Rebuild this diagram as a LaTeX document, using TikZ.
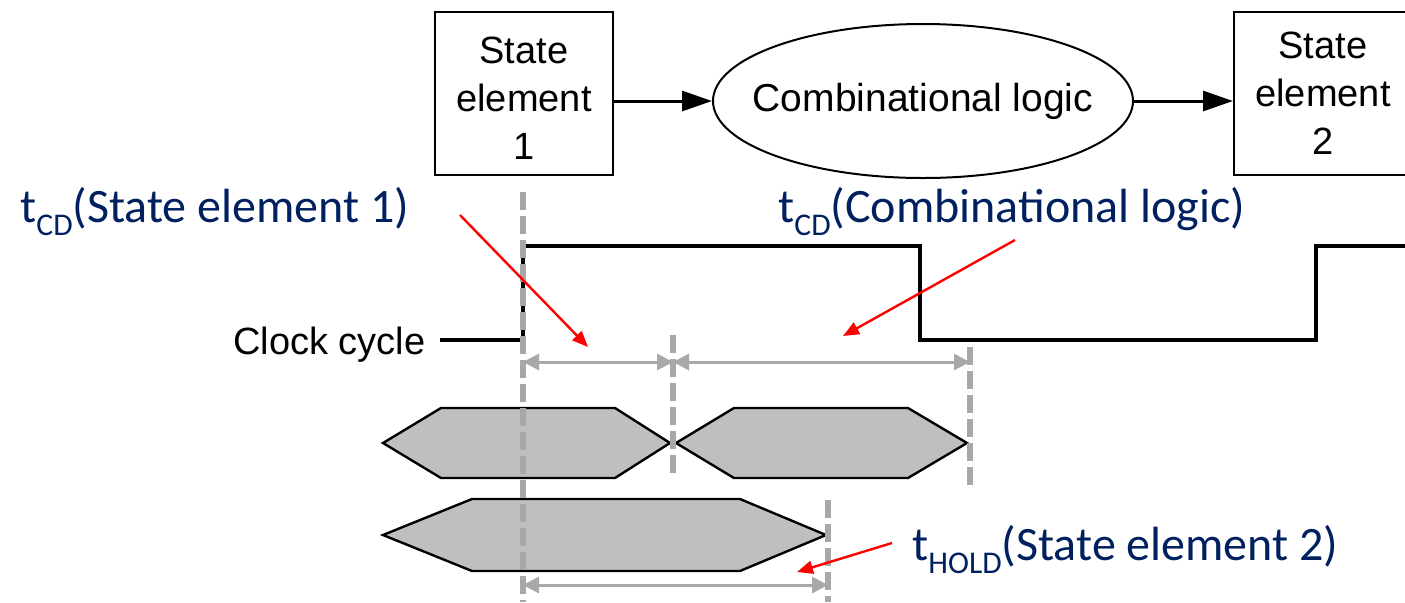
\documentclass[tikz,border=0pt]{standalone}
\usepackage{fontspec}
\setmainfont{Liberation Sans}
\newfontfamily\calib{Carlito}
\usetikzlibrary{arrows.meta,shapes.geometric}
\definecolor{navy}{HTML}{002060}
\definecolor{dashgrey}{HTML}{A8A8A8}
\definecolor{hexfill}{HTML}{BFBFBF}
% t with a subscript, followed by a parenthesised name
\newcommand{\tdelay}[2]{t\raisebox{-0.28em}{\fontsize{15.8pt}{16pt}\selectfont #1}(#2)}
\begin{document}
\begin{tikzpicture}[x=0.5pt,y=-0.5pt,
  stbox/.style={draw,line width=1pt,minimum width=89pt,minimum height=81.5pt,inner sep=0pt},
  logic/.style={draw,ellipse,line width=1pt,minimum width=210pt,minimum height=77pt,inner sep=0pt},
  caption/.style={align=center,inner sep=0pt,font=\fontsize{19pt}{24pt}\selectfont},
  flow/.style={line width=1.5pt,-{Triangle[length=15pt,width=10pt]}},
  wave/.style={line width=1.7pt},
  hex/.style={draw=black,fill=hexfill,line width=1.2pt,line join=miter},
  guide/.style={dashgrey,line width=2.6pt,dash pattern=on 9pt off 3pt},
  span/.style={dashgrey,line width=1.5pt,{Triangle[length=8pt,width=8pt]}-{Triangle[length=8pt,width=8pt]}},
  pointer/.style={red,line width=1.2pt,-{Triangle[length=8pt,width=6.5pt]}},
  delay/.style={navy,inner sep=0pt,anchor=base west,font=\calib\fontsize{24pt}{28pt}\selectfont}]
\path[use as bounding box] (0,0) rectangle (1405,602);
\clip (0,0) rectangle (1405,602);

% datapath: state element -> combinational logic -> state element
\node[stbox] (s1) at (524,93.5) {};
\node[stbox] (s2) at (1323,93) {};
\node[logic] (cl) at (923,101) {};
\node[caption] (t1) at (524,98) {State\\element\\1};
\node[caption] (t2) at (1323,93) {State\\element\\2};
\node[caption,font=\fontsize{19.5pt}{24pt}\selectfont] (tl) at (923,101) {Combinational logic};
\draw[flow] (cl.west -| s1.east) -- (cl.west);
\draw[flow] (cl.east) -- (cl.east -| s2.west);

% clock waveform
\node[anchor=base east,inner sep=0pt,font=\fontsize{19pt}{24pt}\selectfont] (clk) at (426,354) {Clock cycle};
\coordinate (c0) at (440,340);
\coordinate (c1) at (523,340);
\coordinate (c2) at (523,246);
\coordinate (c3) at (920,246);
\coordinate (c4) at (920,340);
\coordinate (c5) at (1316,340);
\coordinate (c6) at (1316,246);
\coordinate (c7) at (1405,246);
\draw[wave] (c0) -- (c1) -- (c2) -- (c3) -- (c4) -- (c5) -- (c6) -- (c7);

% data valid windows
\draw[hex] (383,443) -- (441,408) -- (615,408) -- (670,443) -- (615,478) -- (441,478) -- cycle;
\draw[hex] (676,443) -- (734,408) -- (908,408) -- (967,443) -- (908,478) -- (734,478) -- cycle;
\draw[hex] (383,535) -- (472,499) -- (740,499) -- (826,535) -- (740,571) -- (472,571) -- cycle;

% timing guides
\coordinate (g1t) at (523,192);  \coordinate (g1b) at (523,602);
\coordinate (g2t) at (673,335);  \coordinate (g2b) at (673,473);
\coordinate (g3t) at (970,347);  \coordinate (g3b) at (970,487);
\coordinate (g4t) at (828,500);  \coordinate (g4b) at (828,602);
\draw[guide] (g1t) -- (g1b);
\draw[guide] (g2t) -- (g2b);
\draw[guide] (g3t) -- (g3b);
\draw[guide] (g4t) -- (g4b);

% measured intervals
\coordinate (m1) at (523,362);
\coordinate (m2) at (673,362);
\coordinate (m3) at (970,362);
\coordinate (h1) at (523,585);
\coordinate (h2) at (828,585);
\draw[span] (m1) -- (m2);
\draw[span] (m2) -- (m3);
\draw[span] (h1) -- (h2);

% delay labels with pointers
\node[delay] (lse) at (20,222) {\tdelay{CD}{State element 1}};
\node[delay] (lcl) at (778,222) {\tdelay{CD}{Combinational logic}};
\node[delay] (lho) at (912,560) {\tdelay{HOLD}{State element 2}};
\coordinate (p1s) at (460,215);  \coordinate (p1e) at (588,347);
\coordinate (p2s) at (1015,240); \coordinate (p2e) at (843,336);
\coordinate (p3s) at (892,543);  \coordinate (p3e) at (797,572);
\draw[pointer] (p1s) -- (p1e);
\draw[pointer] (p2s) -- (p2e);
\draw[pointer] (p3s) -- (p3e);
\end{tikzpicture}
\end{document}
